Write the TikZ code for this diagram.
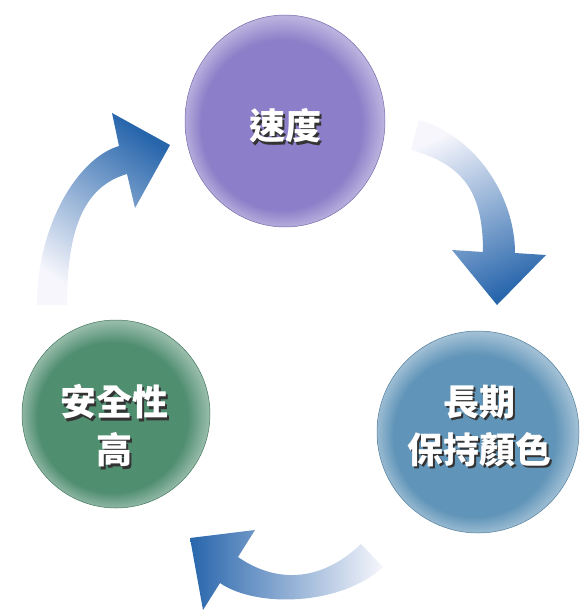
\documentclass[tikz,border=0pt]{standalone}
\usepackage{fontspec}
\newfontfamily\cjk{Noto Sans CJK TC}
\usetikzlibrary{shapes.geometric}

\definecolor{speedc}{RGB}{140,126,200}
\definecolor{colourc}{RGB}{96,148,184}
\definecolor{safec}{RGB}{80,142,112}
\definecolor{arrowc}{RGB}{40,102,172}
\definecolor{shaftc}{RGB}{140,156,212}
\definecolor{tailc}{RGB}{246,246,252}

\pgfdeclareradialshading[discin,discout]{disc}{\pgfpoint{-3bp}{-3bp}}{color(0bp)=(discin); color(20bp)=(discin); color(25bp)=(discout); color(29bp)=(discout)}

\begin{document}
\begin{tikzpicture}[x=1pt,y=-1pt,
	discset/.code={\colorlet{discin}{#1}\colorlet{discout}{#1!60!white}},
	disc/.style={shape=ellipse,inner sep=0pt,draw=#1!85!black,line width=0.5pt,discset=#1,shading=disc},
	labeltext/.style={text=white,font=\cjk\bfseries\fontsize{36}{48}\selectfont,align=center},
	labelshadow/.style={labeltext,text=black!80}]
	\useasboundingbox (0,0) rectangle (582,610);

	% arrows
	\shade[top color=arrowc,middle color=shaftc,bottom color=tailc,shading angle=-35]
		(37,305) .. controls (37,225) and (78,158) .. (119,146) -- (112,113) -- (170,145)
		-- (135,208) -- (127,174) .. controls (86,186) and (67,225) .. (67,305) -- cycle;
	\shade[top color=tailc,middle color=shaftc,bottom color=arrowc,shading angle=25]
		(419,120) .. controls (474,135) and (515,195) .. (515,253) -- (546,255) -- (497,305)
		-- (452,250) -- (483,252) .. controls (483,195) and (466,165) .. (411,150) -- cycle;
	\shade[left color=arrowc,middle color=shaftc,right color=tailc]
		(383,567) .. controls (341,606) and (256,608) .. (220,583) -- (203,610) -- (190,538)
		-- (255,530) -- (238,557) .. controls (274,582) and (319,584) .. (361,544) -- cycle;

	% circles
	\node (speed) [disc=speedc,minimum width=200pt,minimum height=212pt] at (285,121) {};
	\node (colour) [disc=colourc,minimum width=202pt,minimum height=202pt] at (478,432) {};
	\node (safety) [disc=safec,minimum width=188pt,minimum height=188pt] at (116,414) {};

	\node [labelshadow] at ([shift={(2.5pt,-7.5pt)}]speed.center) {速度};
	\node (speedtext) [labeltext] at ([yshift=-5pt]speed.center) {速度};
	\node [labelshadow] at ([shift={(3.5pt,3.5pt)}]colour.center) {長期\\保持顏色};
	\node (colourtext) [labeltext] at ([shift={(1pt,6pt)}]colour.center) {長期\\保持顏色};
	\node [labelshadow] at ([shift={(0.5pt,-14.5pt)}]safety.center) {安全性\\高};
	\node (safetytext) [labeltext] at ([shift={(-2pt,-12pt)}]safety.center) {安全性\\高};
\end{tikzpicture}
\end{document}
